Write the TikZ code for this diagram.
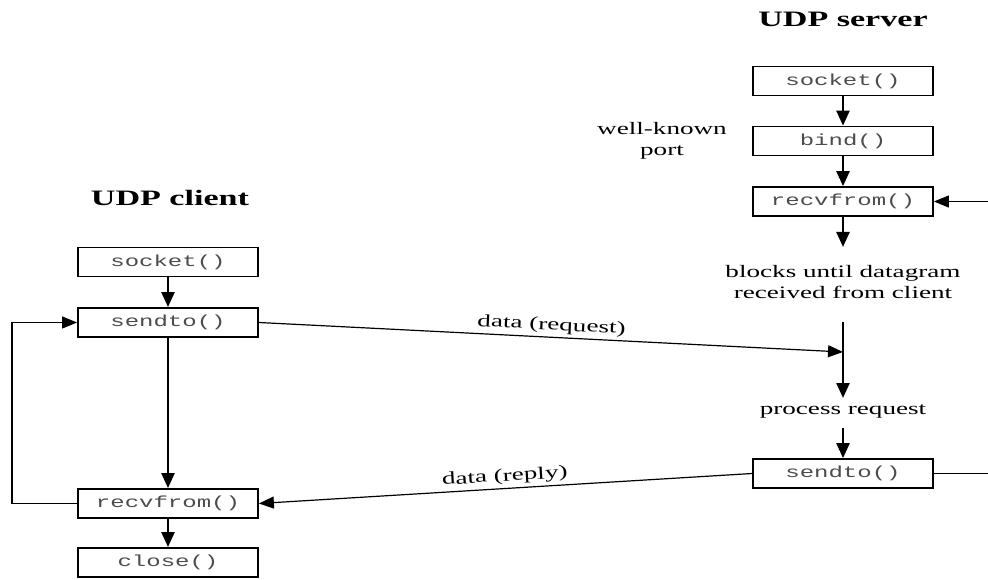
\documentclass[tikz,border=0pt]{standalone}
\usepackage{fontspec}
\setmainfont{Liberation Serif}[FakeStretch=1.55]
\newfontfamily\callfont{Liberation Mono}[FakeStretch=1.5]
\usetikzlibrary{arrows.meta}

\tikzset{
  call/.style={draw, line width=1.8pt, minimum width=180pt, minimum height=29pt,
    inner sep=0pt, font=\callfont\fontsize{16}{16}\selectfont, text=black!70},
  title/.style={font=\bfseries\fontsize{22}{22}\selectfont},
  note/.style={font=\fontsize{17.5}{21}\selectfont, align=center, inner sep=0pt},
  flow/.style={line width=2.4pt, -{Triangle[length=15pt,width=13pt]}},
  msg/.style={line width=1.2pt, -{Triangle[length=15pt,width=12pt]}},
  plain/.style={line width=1.2pt},
}

\begin{document}
\begin{tikzpicture}[x=1pt,y=-1pt]
  \useasboundingbox (0,0) rectangle (988,580);

  % server column
  \node[title] (stitle) at (843,19) {UDP server};
  \node[call] (ssock) at (843,81) {socket()};
  \node[call] (sbind) at (843,141) {bind()};
  \node[call] (srecv) at (843,201.5) {recvfrom()};
  \node[note] (port) at (662,141) {well-known\\port};
  \node[note] (blocks) at (843,282) {blocks until datagram\\received from client};
  \node[note] (proc) at (843,411) {process request};
  \node[call] (ssend) at (843,473.5) {sendto()};

  \coordinate (rin) at (988,201.5);
  \coordinate (rout) at (988,473.5);
  \coordinate (wait) at (843,322);
  \coordinate (meet) at (843,352);
  \coordinate (done) at (843,398);
  \coordinate (blocktop) at (843,247);
  \coordinate (proclow) at (843,428);

  \draw[flow] (ssock) -- (sbind);
  \draw[flow] (sbind) -- (srecv);
  \draw[flow] (srecv.south) -- (blocktop);
  \draw[flow] (wait) -- (done);
  \draw[flow] (proclow) -- (ssend.north);
  \draw[msg] (rin) -- (srecv.east);
  \draw[plain] (ssend.east) -- (rout);

  % client column
  \node[title] (ctitle) at (170,198) {UDP client};
  \node[call] (csock) at (168,262) {socket()};
  \node[call] (csend) at (168,322.5) {sendto()};
  \node[call] (crecv) at (168,503.5) {recvfrom()};
  \node[call] (cclose) at (168,562.5) {close()};
  \coordinate (loopx) at (12,400);

  \draw[flow] (csock) -- (csend);
  \draw[flow] (csend) -- (crecv);
  \draw[flow] (crecv) -- (cclose);
  \draw[msg] (crecv.west) -- (crecv.west -| loopx) |- (csend.west);

  % datagrams exchanged
  \draw[msg] (csend.east) -- node[sloped, above, note, yshift=3pt] {data (request)} (meet);
  \draw[msg] (ssend.west) -- node[sloped, above, note, yshift=3pt] {data (reply)} (crecv.east);
\end{tikzpicture}
\end{document}
